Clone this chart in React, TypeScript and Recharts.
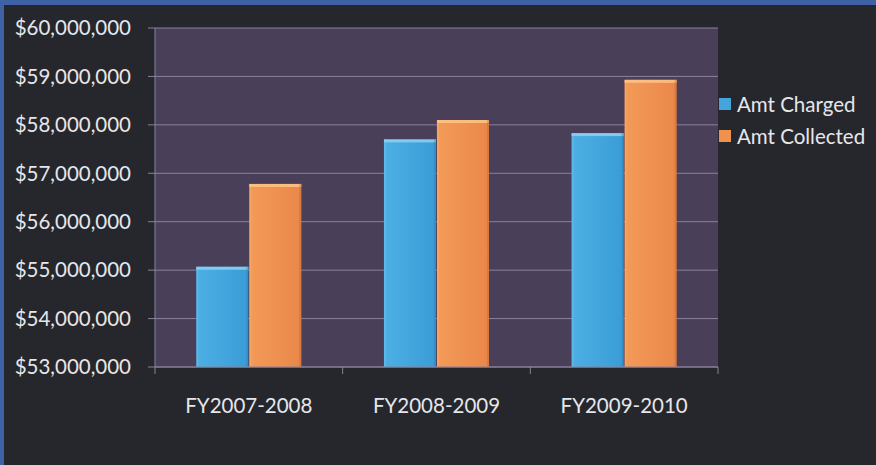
import React from 'react';
import {
  BarChart, Bar, XAxis, YAxis, CartesianGrid,
} from 'recharts';

const categories = ['FY2007-2008', 'FY2008-2009', 'FY2009-2010'];
const amtCharged = [55070000, 57700000, 57830000];
const amtCollected = [56780000, 58100000, 58930000];
const yTicks = [53000000, 54000000, 55000000, 56000000, 57000000, 58000000, 59000000, 60000000];
const seriesNames = ['Amt Charged', 'Amt Collected'];
const seriesColors = ['#43a5dc', '#f0914e'];

const data = categories.map((name, i) => ({
  name,
  charged: amtCharged[i],
  collected: amtCollected[i],
}));

const FONT = 'Lato, "Open Sans", sans-serif';
const TEXT = '#e6e6ea';
const GRID = '#8b819c';

const fmt = (v: number) => '$' + v.toLocaleString('en-US');

// bar with a light bevel along the top, like the office 3d style
const BevelBar = (light: string, dark: string, id: string) => (props: any) => {
  const { x, y, width, height } = props;
  if (!height || height <= 0) return null;
  return (
    <g>
      <rect x={x} y={y} width={width} height={height} fill={`url(#${id})`} />
      <rect x={x} y={y} width={width} height={3} fill={light} opacity={0.85} />
      <rect x={x} y={y} width={2} height={height} fill={light} opacity={0.25} />
      <rect x={x + width - 2} y={y} width={2} height={height} fill={dark} opacity={0.35} />
    </g>
  );
};

const chargedShape = BevelBar('#8fd0f2', '#2a78a8', 'gradBlue');
const collectedShape = BevelBar('#ffc48a', '#b8602a', 'gradOrange');

// category label plus tick marks at the band edges
const CategoryTick = (props: any) => {
  const { x, y, payload, index } = props;
  const half = payload && payload.offset ? payload.offset : 93.8;
  const axisY = 367;
  return (
    <g>
      <line x1={x - half} x2={x - half} y1={axisY} y2={axisY + 7} stroke={GRID} />
      {index === categories.length - 1 && (
        <line x1={x + half} x2={x + half} y1={axisY} y2={axisY + 7} stroke={GRID} />
      )}
      <text x={x} y={y} dy={16} textAnchor="middle" fill={TEXT} fontSize={20.5} fontFamily={FONT}>
        {payload.value}
      </text>
    </g>
  );
};

export default function App() {
  return (
    <div
      style={{
        width: 876,
        height: 465,
        position: 'relative',
        background: '#25272d',
        overflow: 'hidden',
      }}
    >
      <style>{'body{margin:0}'}</style>
      <div style={{ position: 'absolute', left: 0, top: 0, width: 876, height: 5, background: '#3f62a6' }} />
      <div style={{ position: 'absolute', left: 0, top: 0, width: 4, height: 465, background: '#3f62a6' }} />
      <BarChart
        width={876}
        height={465}
        data={data}
        margin={{ top: 28, right: 158, bottom: 0, left: 0 }}
        barCategoryGap="22%"
        barGap={1}
        style={{ position: 'absolute', left: 0, top: 0 }}
      >
        <defs>
          <linearGradient id="gradBlue" x1="0" y1="0" x2="1" y2="0">
            <stop offset="0%" stopColor="#4db0e4" />
            <stop offset="100%" stopColor="#3a9cd6" />
          </linearGradient>
          <linearGradient id="gradOrange" x1="0" y1="0" x2="1" y2="0">
            <stop offset="0%" stopColor="#f39b58" />
            <stop offset="100%" stopColor="#ea874a" />
          </linearGradient>
        </defs>
        <CartesianGrid vertical={false} stroke={GRID} fill="#4a3f59" fillOpacity={1} />
        <XAxis
          dataKey="name"
          height={98}
          axisLine={{ stroke: GRID }}
          tickLine={false}
          tickMargin={24}
          interval={0}
          tick={<CategoryTick />}
        />
        <YAxis
          width={155}
          domain={[53000000, 60000000]}
          ticks={yTicks}
          interval={0}
          tickFormatter={fmt}
          axisLine={{ stroke: GRID }}
          tickLine={{ stroke: GRID }}
          tickSize={7}
          tickMargin={17}
          tick={{ fill: TEXT, fontSize: 20.5, fontFamily: FONT }}
        />
        <Bar dataKey="charged" name={seriesNames[0]} fill={seriesColors[0]} shape={chargedShape} isAnimationActive={false} />
        <Bar dataKey="collected" name={seriesNames[1]} fill={seriesColors[1]} shape={collectedShape} isAnimationActive={false} />
      </BarChart>
      <div style={{ position: 'absolute', left: 719, top: 88, fontFamily: FONT, fontSize: 20.5, color: TEXT }}>
        {seriesNames.map((label, i) => (
          <div key={label} style={{ display: 'flex', alignItems: 'center', height: 32 }}>
            <span style={{ display: 'inline-block', width: 12, height: 12, background: seriesColors[i], marginRight: 6 }} />
            <span>{label}</span>
          </div>
        ))}
      </div>
    </div>
  );
}
